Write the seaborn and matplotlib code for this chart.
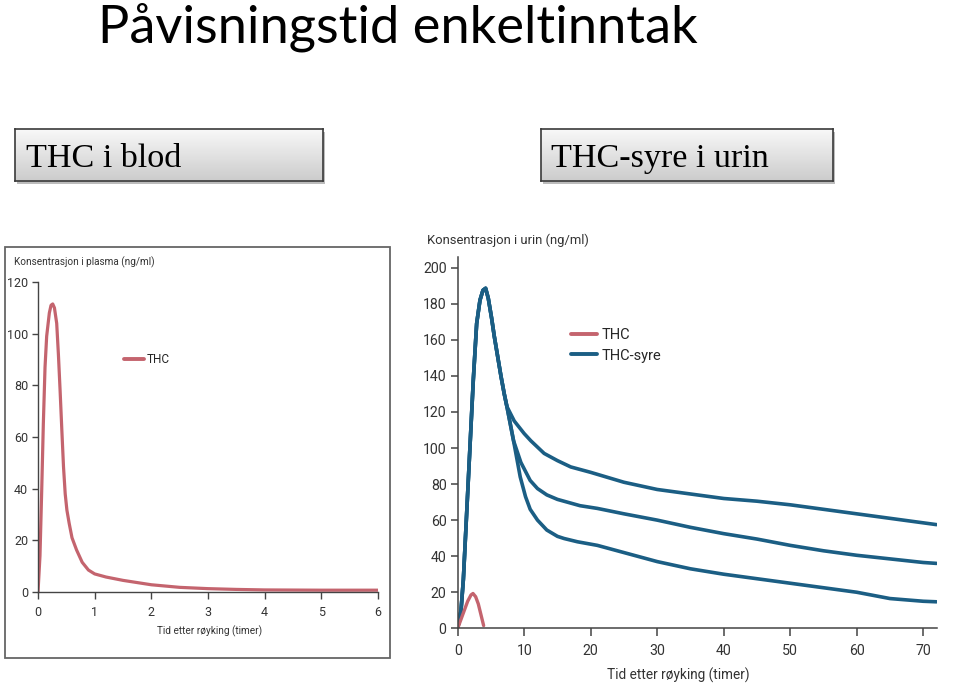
import numpy as np
import pandas as pd
import matplotlib
matplotlib.use("Agg")
import matplotlib.pyplot as plt
from matplotlib.patches import Rectangle
from matplotlib.lines import Line2D
import seaborn as sns

# ---------------- data ----------------
plasma_t = [0, 0.035, 0.065, 0.094, 0.124, 0.153, 0.2, 0.23, 0.26, 0.29, 0.33, 0.36, 0.39, 0.42,
            0.45, 0.48, 0.51, 0.55, 0.6, 0.68, 0.78, 0.89, 1.0, 1.2, 1.5, 2.0, 2.5, 3.0, 3.5, 4.0, 5.0, 6.0]
plasma_thc = [0, 14, 39, 65, 87, 99, 108, 111, 111.5, 110, 104, 92, 78, 63,
              48.5, 38, 31.7, 26.6, 21, 16.3, 11.5, 8.5, 7, 5.8, 4.5, 2.8, 1.8, 1.3, 1.0, 0.8, 0.7, 0.7]

urine_thc_t = [0, 0.5, 1.0, 1.5, 2.0, 2.3, 2.7, 3.1, 3.5, 3.9]
urine_thc = [0, 5, 10, 15, 18.5, 19.3, 17.5, 13.5, 7.5, 1.5]

acid_rise_t = [0, 0.5, 0.85, 1.35, 1.85, 2.35, 2.85, 3.35, 3.8, 4.2, 4.6, 5.1, 5.5, 6.0, 6.5, 7.0, 7.4]
acid_rise = [0, 10, 27, 64, 101, 138, 169, 182, 187.5, 188.6, 183, 172, 162, 151, 140, 130, 123]

acid_high_t = [8.5, 10, 11, 13, 15, 17, 20, 25, 30, 35, 40, 45, 50, 55, 60, 65, 70, 72]
acid_high = [115, 108, 104, 97, 93, 89.5, 86.5, 81, 77, 74.5, 72, 70.5, 68.5, 66, 63.5, 61, 58.5, 57.5]

acid_mid_t = [8.4, 9.5, 10.9, 12, 13.4, 15, 18.4, 21, 25, 30, 35, 40, 45, 50, 55, 60, 65, 70, 72]
acid_mid = [104, 92, 82, 77.5, 74, 71.5, 68, 66.5, 63.5, 60, 56, 52.5, 49.5, 46, 43, 40.5, 38.5, 36.5, 36]

acid_low_t = [8.4, 9.4, 10.2, 10.9, 12, 13.4, 15, 16, 18, 21, 25, 30, 35, 40, 45, 50, 55, 60, 65, 70, 72]
acid_low = [104, 84, 73, 66, 60, 54.5, 51, 49.8, 48, 46, 42, 37, 33, 30, 27.5, 25, 22.5, 20, 16.5, 15, 14.7]

left_xticks = [0, 1, 2, 3, 4, 5, 6]
left_yticks = [0, 20, 40, 60, 80, 100, 120]
right_xticks = [0, 10, 20, 30, 40, 50, 60, 70]
right_yticks = [0, 20, 40, 60, 80, 100, 120, 140, 160, 180, 200]

title = "Påvisningstid enkeltinntak"
box_left_label = "THC i blod"
box_right_label = "THC-syre i urin"
left_ylabel = "Konsentrasjon i plasma (ng/ml)"
right_ylabel = "Konsentrasjon i urin (ng/ml)"
xlabel = "Tid etter røyking (timer)"

# ---------------- style ----------------
sns.set_style("ticks")
SANS = ["Roboto", "DejaVu Sans"]
plt.rcParams["font.family"] = SANS

RED = "#c4646e"
BLUE = "#1b5e84"
AXC = "#444444"
TXT = "#333333"

W, H = 959, 687
fig = plt.figure(figsize=(W / 100, H / 100), dpi=100)
fig.patch.set_facecolor("white")


def fx(x):
    return x / W


def fy(y):
    return 1 - y / H


# title
fig.text(fx(98), fy(42), title, ha="left", va="baseline",
         fontsize=37.7, family=["Lato", "DejaVu Sans"], color="black")


# gradient label boxes
def label_box(x0, y0, x1, y1, text):
    fig.patches.append(Rectangle((fx(x0 + 2), fy(y1 + 3)), fx(x1 - x0), (y1 - y0) / H,
                                 transform=fig.transFigure, facecolor="#a0a0a0",
                                 edgecolor="none", alpha=0.7, zorder=-2))
    bax = fig.add_axes([fx(x0), fy(y1), fx(x1 - x0), (y1 - y0) / H])
    grad = np.linspace(0, 1, 100).reshape(-1, 1)
    cmap = matplotlib.colors.LinearSegmentedColormap.from_list("g", ["#f8f8f8", "#cccccc"])
    bax.imshow(grad, aspect="auto", cmap=cmap, extent=[0, 1, 0, 1], origin="upper")
    bax.set_xticks([])
    bax.set_yticks([])
    for s in bax.spines.values():
        s.set_color("#3a3a3a")
        s.set_linewidth(1.2)
    bax.text(0.035, 0.27, text, transform=bax.transAxes, ha="left", va="baseline",
             fontsize=24.6, family=["Liberation Serif", "DejaVu Serif"], color="black")


label_box(15, 129, 323, 181, box_left_label)
label_box(541, 129, 833, 181, box_right_label)

# left chart frame
fig.patches.append(Rectangle((fx(5), fy(658)), fx(385), 411 / H, transform=fig.transFigure,
                             facecolor="white", edgecolor="#666666", linewidth=1.3, zorder=-2))

# ---------------- left chart ----------------
axL = fig.add_axes([fx(38), fy(592), fx(340), 310 / H])
axL.set_facecolor("none")
dfL = pd.DataFrame({"t": plasma_t, "v": plasma_thc})
sns.lineplot(data=dfL, x="t", y="v", ax=axL, color=RED, linewidth=2.3, sort=False)
axL.set_xlim(0, 6)
axL.set_ylim(0, 120)
axL.set_xticks(left_xticks)
axL.set_yticks(left_yticks)
axL.set_xlabel("")
axL.set_ylabel("")
for s in ["top", "right"]:
    axL.spines[s].set_visible(False)
for s in ["left", "bottom"]:
    axL.spines[s].set_color(AXC)
    axL.spines[s].set_linewidth(1.0)
axL.tick_params(axis="both", colors=AXC, labelcolor=TXT, labelsize=9, length=4, width=1.0, pad=3)
axL.tick_params(axis="x", length=5, pad=5)
fig.text(fx(14), fy(262), left_ylabel, ha="left", va="center", fontsize=7.2, color=TXT)
fig.text(fx(210), fy(631), xlabel, ha="center", va="center", fontsize=7.2, color=TXT)
axL.legend(handles=[Line2D([], [], color=RED, lw=2.8)], labels=["THC"], loc="upper left",
           bbox_to_anchor=(fx(124), fy(353)), bbox_transform=fig.transFigure,
           frameon=False, fontsize=8.5, handlelength=1.7, handletextpad=0.25,
           borderpad=0, borderaxespad=0)

# ---------------- right chart ----------------
axR = fig.add_axes([fx(457.7), fy(628.3), fx(478.8), (628.3 - 256.9) / H])
axR.set_facecolor("none")
curves = []
for name, tt, vv in [("high", acid_high_t, acid_high),
                     ("mid", acid_mid_t, acid_mid),
                     ("low", acid_low_t, acid_low)]:
    curves.append(pd.DataFrame({"t": acid_rise_t + tt, "v": acid_rise + vv, "curve": name}))
dfA = pd.concat(curves, ignore_index=True)
sns.lineplot(data=dfA, x="t", y="v", units="curve", estimator=None, ax=axR,
             color=BLUE, linewidth=2.6, sort=False, legend=False)
dfU = pd.DataFrame({"t": urine_thc_t, "v": urine_thc})
sns.lineplot(data=dfU, x="t", y="v", ax=axR, color=RED, linewidth=2.4, sort=False)
axR.set_xlim(0, 72)
axR.set_ylim(0, 206)
axR.set_xticks(right_xticks)
axR.set_yticks(right_yticks)
axR.set_xlabel("")
axR.set_ylabel("")
for s in ["top", "right"]:
    axR.spines[s].set_visible(False)
for s in ["left", "bottom"]:
    axR.spines[s].set_color(AXC)
    axR.spines[s].set_linewidth(1.1)
axR.tick_params(axis="both", colors=AXC, labelcolor=TXT, labelsize=10.2, length=5, width=1.1, pad=3)
axR.tick_params(axis="x", length=6, pad=5)
fig.text(fx(427), fy(240), right_ylabel, ha="left", va="center", fontsize=9.4, color=TXT)
fig.text(fx(678), fy(675), xlabel, ha="center", va="center", fontsize=9.8, color=TXT)
axR.legend(handles=[Line2D([], [], color=RED, lw=2.8), Line2D([], [], color=BLUE, lw=2.8)],
           labels=["THC", "THC-syre"], loc="upper left",
           bbox_to_anchor=(fx(571), fy(328)), bbox_transform=fig.transFigure,
           frameon=False, fontsize=10.5, handlelength=1.8, handletextpad=0.3,
           labelspacing=0.45, borderpad=0, borderaxespad=0)

fig.savefig("out.png", dpi=100, facecolor="white")
